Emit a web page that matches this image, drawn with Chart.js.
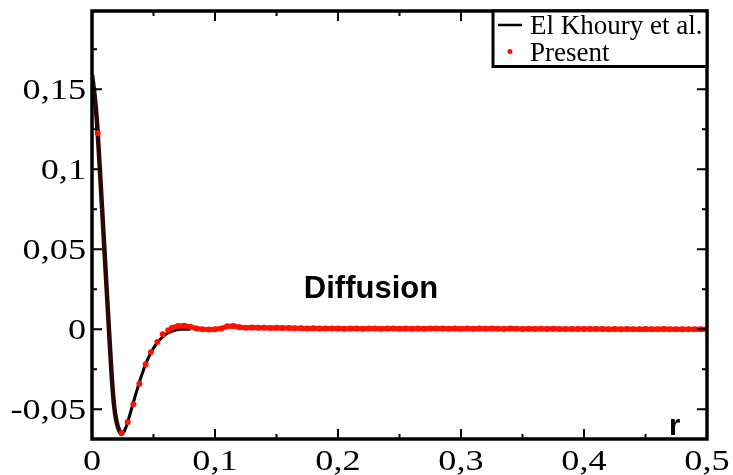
<!DOCTYPE html>
<html>
<head>
<meta charset="utf-8">
<script src="https://cdn.jsdelivr.net/npm/chart.js"></script>
<style>
  html, body { margin: 0; padding: 0; background: #fff; }
  #wrap { width: 733px; height: 475px; position: relative; }
</style>
</head>
<body>
<div id="wrap"><canvas id="diffChart"></canvas></div>
<script>
// El Khoury et al. (courbe de référence)
const khouryR = [0, 0.002, 0.004, 0.006, 0.008, 0.010, 0.012, 0.014, 0.016, 0.018, 0.020, 0.022, 0.024,
  0.026, 0.028, 0.030, 0.033, 0.036, 0.040, 0.044, 0.048, 0.052, 0.056, 0.060, 0.064, 0.068, 0.072, 0.080];
const khouryV = [0.159, 0.147, 0.130, 0.105, 0.078, 0.051, 0.024, -0.003, -0.029, -0.048, -0.058, -0.063, -0.0655,
  -0.064, -0.0605, -0.0555, -0.0475, -0.0395, -0.0295, -0.021, -0.0145, -0.0095, -0.0058, -0.0032, -0.0015, -0.0005, 0, 0];

// Present - points isolés
const presentR = [0.0046, 0.0241, 0.029, 0.0336, 0.0385, 0.0436, 0.048, 0.0531, 0.0575, 0.062];
const presentV = [0.1225, -0.0648, -0.058, -0.0469, -0.034, -0.0219, -0.0142, -0.0079, -0.0031, -0.0006];

// Present - zone dense (plateau autour de 0)
const denseR = [0.065, 0.070, 0.075, 0.080, 0.085, 0.090, 0.095, 0.100, 0.105, 0.110, 0.115, 0.120, 0.125, 0.130,
  0.135, 0.140, 0.145, 0.150, 0.155, 0.160, 0.165, 0.170, 0.175, 0.180, 0.185, 0.190, 0.195, 0.200, 0.205, 0.210,
  0.215, 0.220, 0.225, 0.230, 0.235, 0.240, 0.245, 0.250, 0.255, 0.260, 0.265, 0.270, 0.275, 0.280, 0.285, 0.290,
  0.295, 0.300, 0.305, 0.310, 0.315, 0.320, 0.325, 0.330, 0.335, 0.340, 0.345, 0.350, 0.355, 0.360, 0.365, 0.370,
  0.375, 0.380, 0.385, 0.390, 0.395, 0.400, 0.405, 0.410, 0.415, 0.420, 0.425, 0.430, 0.435, 0.440, 0.445, 0.450,
  0.455, 0.460, 0.465, 0.470, 0.475, 0.480, 0.485, 0.490, 0.495, 0.500];
const denseV = [0.0010, 0.0020, 0.0022, 0.0015, 0.0005, 0.0000, -0.0002, 0.0000, 0.0004, 0.0018, 0.0020, 0.0012, 0.0010, 0.0011,
  0.0009, 0.0010, 0.0008, 0.0009, 0.0007, 0.0008, 0.0006, 0.0006, 0.0005, 0.0006, 0.0004, 0.0005, 0.0004, 0.0005, 0.0003, 0.0005,
  0.0004, 0.0003, 0.0005, 0.0004, 0.0003, 0.0004, 0.0005, 0.0003, 0.0004, 0.0003, 0.0004, 0.0003, 0.0004, 0.0005, 0.0004, 0.0003,
  0.0004, 0.0003, 0.0004, 0.0003, 0.0004, 0.0003, 0.0004, 0.0003, 0.0002, 0.0004, 0.0003, 0.0002, 0.0003, 0.0002, 0.0003, 0.0002,
  0.0003, 0.0002, 0.0001, 0.0002, 0.0001, 0.0002, 0.0001, 0.0002, 0.0001, 0.0000, 0.0001, 0.0000, 0.0001, 0.0000, 0.0000, 0.0001,
  0.0000, 0.0000, 0.0001, 0.0000, 0.0000, 0.0000, 0.0000, 0.0000, 0.0000, 0.0000];

// Graduations
const xTicks = [0, 0.1, 0.2, 0.3, 0.4, 0.5];
const xTickLabels = ['0', '0,1', '0,2', '0,3', '0,4', '0,5'];
const xMinor = [0.05, 0.15, 0.25, 0.35, 0.45];
const yTicks = [-0.05, 0, 0.05, 0.1, 0.15];
const yTickLabels = ['-0,05', '0', '0,05', '0,1', '0,15'];
const yMinor = [-0.025, 0.025, 0.075, 0.125, 0.175];

const toPoints = (xs, ys) => xs.map((x, i) => ({ x: x, y: ys[i] }));

// Cadre, graduations internes, étiquettes, légende
const framePlugin = {
    id: 'frame',
    afterDraw(chart) {
        const ctx = chart.ctx;
        const a = chart.chartArea;
        const sx = chart.scales.x;
        const sy = chart.scales.y;
        ctx.save();
        ctx.strokeStyle = '#000';

        // graduations
        ctx.lineWidth = 2;
        const tickX = (v, len) => {
            const px = sx.getPixelForValue(v);
            ctx.beginPath();
            ctx.moveTo(px, a.bottom); ctx.lineTo(px, a.bottom - len);
            ctx.moveTo(px, a.top); ctx.lineTo(px, a.top + len);
            ctx.stroke();
        };
        const tickY = (v, len) => {
            const py = sy.getPixelForValue(v);
            ctx.beginPath();
            ctx.moveTo(a.left, py); ctx.lineTo(a.left + len, py);
            ctx.moveTo(a.right, py); ctx.lineTo(a.right - len, py);
            ctx.stroke();
        };
        xTicks.forEach(v => tickX(v, 10));
        xMinor.forEach(v => tickX(v, 5));
        yTicks.forEach(v => tickY(v, 10));
        yMinor.forEach(v => tickY(v, 5));

        // cadre
        ctx.lineWidth = 3.5;
        ctx.strokeRect(a.left, a.top, a.right - a.left, a.bottom - a.top);

        // étiquettes des axes (police serif étirée)
        ctx.fillStyle = '#000';
        ctx.font = '29px "Liberation Serif", "Times New Roman", serif';
        ctx.textBaseline = 'alphabetic';
        ctx.textAlign = 'center';
        xTicks.forEach((v, i) => {
            ctx.save();
            ctx.translate(sx.getPixelForValue(v), 470);
            ctx.scale(1.25, 1);
            ctx.fillText(xTickLabels[i], 0, 0);
            ctx.restore();
        });
        ctx.textAlign = 'right';
        yTicks.forEach((v, i) => {
            ctx.save();
            ctx.translate(a.left - 6, sy.getPixelForValue(v) + 10);
            ctx.scale(1.25, 1);
            ctx.fillText(yTickLabels[i], 0, 0);
            ctx.restore();
        });

        // textes dans le graphe
        ctx.font = 'bold 31px "Liberation Sans", Arial, sans-serif';
        ctx.textAlign = 'center';
        ctx.fillText('Diffusion', 371, 298);
        ctx.font = 'bold 29px "Liberation Sans", Arial, sans-serif';
        ctx.textAlign = 'left';
        ctx.fillText('r', 669, 435);

        // légende
        const lx = 493, ly = a.top, lw = a.right - 493, lh = 55.5;
        ctx.fillStyle = '#fff';
        ctx.fillRect(lx, ly, lw, lh);
        ctx.lineWidth = 3;
        ctx.strokeRect(lx, ly, lw, lh);
        ctx.lineWidth = 2.5;
        ctx.beginPath();
        ctx.moveTo(498, 25); ctx.lineTo(522, 25);
        ctx.stroke();
        ctx.fillStyle = '#ff1000';
        ctx.beginPath();
        ctx.arc(510, 51.5, 2.5, 0, Math.PI * 2);
        ctx.fill();
        ctx.fillStyle = '#000';
        ctx.font = '27px "Liberation Serif", "Times New Roman", serif';
        ctx.fillText('El Khoury et al.', 530, 33.5);
        ctx.fillText('Present', 530, 61);
        ctx.restore();
    }
};

const chart = new Chart(document.getElementById('diffChart').getContext('2d'), {
    type: 'scatter',
    data: {
        datasets: [
            {
                label: 'El Khoury et al.',
                data: toPoints(khouryR, khouryV),
                showLine: true,
                borderColor: '#000',
                borderWidth: 3,
                pointRadius: 0,
                cubicInterpolationMode: 'monotone',
                segment: {
                    borderWidth: c => (c.p1.parsed.x <= 0.024 ? 4.5 : 3),
                    borderColor: c => (c.p1.parsed.x <= 0.024 ? '#2a0806' : '#000')
                },
                order: 2
            },
            {
                label: 'Present',
                data: toPoints(presentR, presentV),
                showLine: false,
                backgroundColor: '#ff1000',
                borderWidth: 0,
                pointRadius: 3,
                order: 1
            },
            {
                label: 'Present (plateau)',
                data: toPoints(denseR, denseV),
                showLine: true,
                borderColor: '#ff1000',
                borderWidth: 5,
                backgroundColor: '#ff1000',
                pointBorderWidth: 0,
                pointRadius: 3,
                order: 0
            }
        ]
    },
    options: {
        responsive: true,
        maintainAspectRatio: false,
        animation: false,
        layout: { padding: { left: 92, top: 11, right: 26, bottom: 36 } },
        plugins: {
            legend: { display: false },
            tooltip: { enabled: false }
        },
        scales: {
            x: { type: 'linear', min: 0, max: 0.5, display: false },
            y: { type: 'linear', min: -0.0686, max: 0.1989, display: false }
        }
    },
    plugins: [framePlugin]
});
</script>
</body>
</html>
